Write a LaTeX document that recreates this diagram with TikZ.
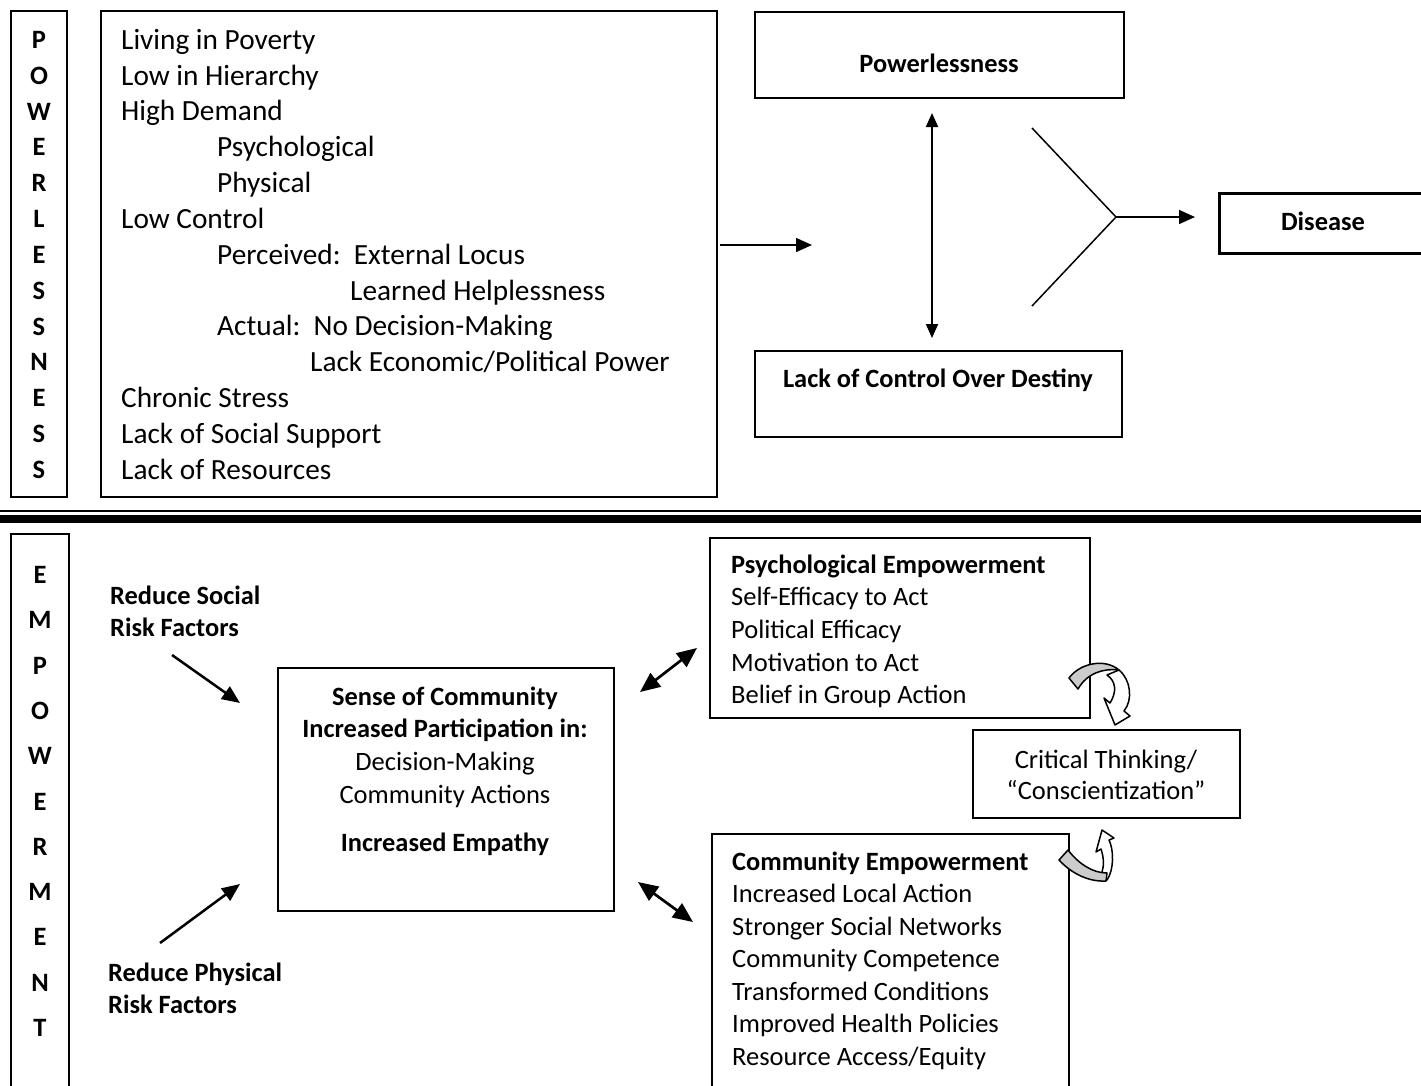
\documentclass[tikz,border=0pt]{standalone}
\usepackage{fontspec}
\setmainfont{Carlito}
\usetikzlibrary{arrows.meta}
\newcommand\fList{\fontsize{29.3}{35.8}\selectfont}
\newcommand\fLbl{\fontsize{26.4}{32}\selectfont\bfseries}
\newcommand\fSm{\fontsize{26.5}{32.5}\selectfont}
\newcommand\fVert{\fontsize{26.5}{30}\selectfont\bfseries}
\begin{document}
\begin{tikzpicture}[x=1pt,y=-1pt,
  box/.style={draw, line width=1.5pt, inner sep=0pt, outer sep=0pt, anchor=north west},
  lt/.style={anchor=base west, inner sep=0pt, font=\fList},
  st/.style={anchor=base west, inner sep=0pt, font=\fSm},
  sc/.style={anchor=base, inner sep=0pt, font=\fSm},
  sb/.style={anchor=base west, inner sep=0pt, font=\fLbl},
  sbc/.style={anchor=base, inner sep=0pt, font=\fLbl},
  vl/.style={anchor=base, inner sep=0pt, font=\fVert},
  arr/.style={line width=1.5pt, -{Triangle[length=16pt,width=14pt]}},
  vdbl/.style={line width=2pt, {Triangle[length=14pt,width=12pt]}-{Triangle[length=14pt,width=12pt]}},
  dbl/.style={line width=2.7pt, {Triangle[length=20pt,width=17pt]}-{Triangle[length=20pt,width=17pt]}},
  rarr/.style={line width=2.5pt, -{Triangle[length=18pt,width=15pt]}},
  curv/.style={line width=1.5pt, line join=round}
]
\useasboundingbox (0,0) rectangle (1421,1085);
\clip (0,0) rectangle (1421,1085);

% ---------------- top section ----------------
\node[box, minimum width=56pt, minimum height=486pt] (pbox) at (11,11) {};
\foreach \l [count=\i from 0] in {P,O,W,E,R,L,E,S,S,N,E,S,S}
  \node[vl] (pl\i) at (39,{48.5+35.83*\i}) {\l};

\node[box, minimum width=616pt, minimum height=486pt] (lbox) at (101,11) {};
\node[lt] (t1) at (121,49) {Living in Poverty};
\node[lt] (t2) at (121,85) {Low in Hierarchy};
\node[lt] (t3) at (121,120) {High Demand};
\node[lt] (t4) at (217,156) {Psychological};
\node[lt] (t5) at (217,192) {Physical};
\node[lt] (t6) at (121,228) {Low Control};
\node[lt] (t7) at (217,264) {Perceived:\ \ External Locus};
\node[lt] (t8) at (350,300) {Learned Helplessness};
\node[lt] (t9) at (217,335) {Actual:\ \ No Decision-Making};
\node[lt] (t10) at (310,371) {Lack Economic/Political Power};
\node[lt] (t11) at (121,407) {Chronic Stress};
\node[lt] (t12) at (121,443) {Lack of Social Support};
\node[lt] (t13) at (121,479) {Lack of Resources};

\node[box, minimum width=369pt, minimum height=86pt] (pw) at (755,12) {};
\node[sbc] (pwt) at (939,72) {Powerlessness};
\node[box, minimum width=367pt, minimum height=86pt] (lc) at (755,351) {};
\node[sbc] (lct) at (938,387) {Lack of Control Over Destiny};

\node[box, line width=3pt, minimum width=230pt, minimum height=60pt] (dis) at (1219,193) {};
\node[sbc] (dist) at (1323,230) {Disease};

\coordinate (la) at (720,245);
\coordinate (lb) at (812,245);
\draw[arr] (la) -- (lb);

\coordinate (va) at (932,113);
\coordinate (vb) at (932,338);
\draw[vdbl] (va) -- (vb);

\coordinate (ya) at (1032,128);
\coordinate (yb) at (1032,306);
\coordinate (yj) at (1116,217);
\draw[line width=1.5pt] (ya) -- (yj) -- (yb);
\draw[arr, shorten >=24pt] (yj) -- (yj -| dis.west);

% ---------------- divider ----------------
\draw[line width=1.5pt] (0,511) -- (1421,511);
\draw[line width=8pt] (0,518.5) -- (1421,518.5);

% ---------------- bottom section ----------------
\node[box, minimum width=58pt, minimum height=560pt] (ebox) at (11,534) {};
\foreach \l [count=\i from 0] in {E,M,P,O,W,E,R,M,E,N,T}
  \node[vl] (el\i) at (40,{583.5+45.3*\i}) {\l};

\node[sb] (rs1) at (110,604) {Reduce Social};
\node[sb] (rs2) at (110,636) {Risk Factors};
\node[sb] (rp1) at (108,981) {Reduce Physical};
\node[sb] (rp2) at (108,1013) {Risk Factors};

\node[box, minimum width=336pt, minimum height=243pt] (cbox) at (278,668) {};
\node[sbc] (c1) at (445,705) {Sense of Community};
\node[sbc] (c2) at (445,737) {Increased Participation in:};
\node[sc] (c3) at (445,770) {Decision-Making};
\node[sc] (c4) at (445,803) {Community Actions};
\node[sbc] (c5) at (445,851) {Increased Empathy};

\coordinate (ra) at (172,655);
\coordinate (rb) at (240,703);
\draw[rarr] (ra) -- (rb);
\coordinate (rc) at (160,943);
\coordinate (rd) at (240,884);
\draw[rarr] (rc) -- (rd);

\node[box, minimum width=380pt, minimum height=180pt] (psy) at (710,538) {};
\node[sb] (p1) at (731,573) {Psychological Empowerment};
\node[st] (p2) at (731,605) {Self-Efficacy to Act};
\node[st] (p3) at (731,638) {Political Efficacy};
\node[st] (p4) at (731,671) {Motivation to Act};
\node[st] (p5) at (731,703) {Belief in Group Action};

\node[box, minimum width=267pt, minimum height=88pt] (crit) at (973,730) {};
\node[sc] (k1) at (1106,768) {Critical Thinking/};
\node[sc] (k2) at (1106,799) {``Conscientization''};

\node[box, minimum width=357pt, minimum height=260pt] (com) at (712,834) {};
\node[sb] (m1) at (732,870) {Community Empowerment};
\node[st] (m2) at (732,902) {Increased Local Action};
\node[st] (m3) at (732,935) {Stronger Social Networks};
\node[st] (m4) at (732,967) {Community Competence};
\node[st] (m5) at (732,1000) {Transformed Conditions};
\node[st] (m6) at (732,1032) {Improved Health Policies};
\node[st] (m7) at (732,1065) {Resource Access/Equity};

\coordinate (da) at (640,692);
\coordinate (db) at (697,648);
\draw[dbl] (da) -- (db);
\coordinate (dc) at (638,882);
\coordinate (dd) at (693,922);
\draw[dbl] (dc) -- (dd);

% curved arrow: psychological -> critical thinking
\draw[curv, fill=white] (1119,670) .. controls (1131,680) and (1133,700) .. (1124,711)
  -- (1130,716) -- (1115,725) -- (1104,698) -- (1110,703)
  .. controls (1117,692) and (1116,681) .. (1107,675) -- cycle;
\draw[curv, fill=black!20] (1069,678) .. controls (1080,663) and (1105,658) .. (1119,670)
  .. controls (1104,668) and (1087,673) .. (1078,689) -- cycle;

% curved arrow: community -> critical thinking
\draw[curv, fill=white] (1107,880) .. controls (1114,870) and (1114,850) .. (1109,840)
  -- (1114,838) -- (1102,830) -- (1096,852) -- (1101,849)
  .. controls (1104,858) and (1104,866) .. (1102,872) -- cycle;
\draw[curv, fill=black!20] (1068,850) .. controls (1078,863) and (1092,873) .. (1107,873)
  -- (1106,881) .. controls (1088,882) and (1071,873) .. (1059,860) -- cycle;
\end{tikzpicture}
\end{document}
